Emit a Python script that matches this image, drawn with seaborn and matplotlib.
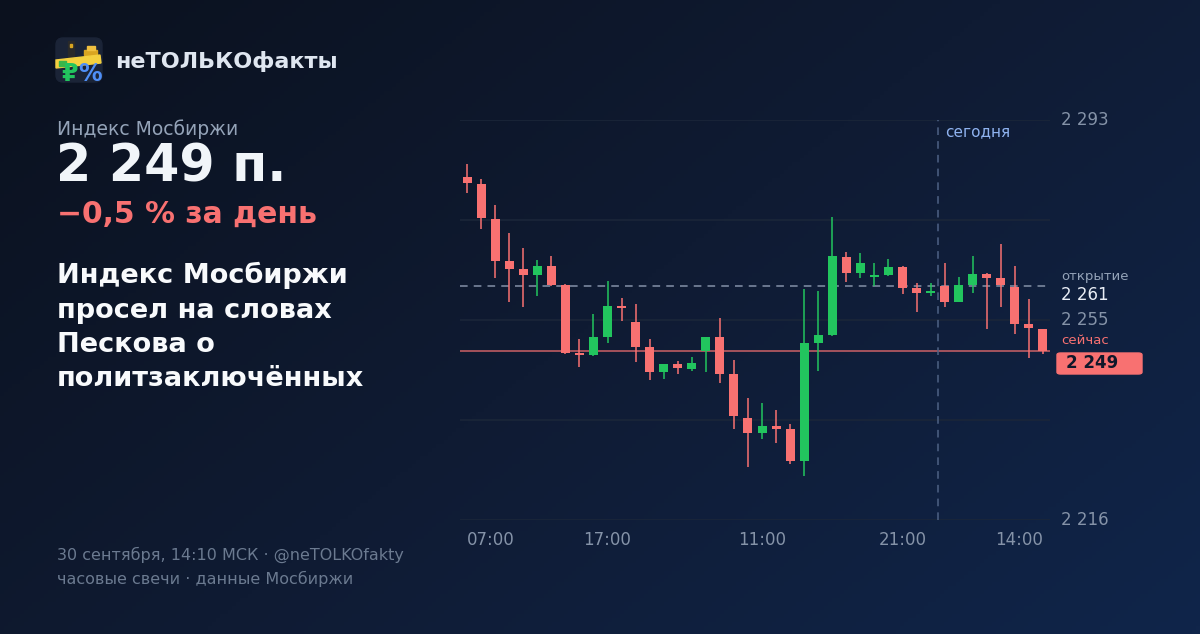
import numpy as np
import seaborn as sns
import matplotlib.pyplot as plt
from matplotlib.patches import FancyBboxPatch, Rectangle, Polygon
from matplotlib.colors import LinearSegmentedColormap

# hourly candles, Moscow exchange index
opens = [2282.1, 2280.7, 2273.9, 2265.9, 2264.3, 2263.2, 2264.9, 2261.2, 2248.1, 2247.8,
         2251.2, 2257.2, 2254.1, 2249.3, 2244.5, 2246.0, 2245.1, 2248.5, 2251.2, 2244.1,
         2235.6, 2232.7, 2234.1, 2233.5, 2227.4, 2250.1, 2251.6, 2266.6, 2263.5, 2262.8,
         2263.2, 2264.7, 2260.7, 2259.7, 2261.0, 2258.0, 2261.2, 2263.4, 2262.6, 2260.9,
         2253.7, 2252.8]
closes = [2280.8, 2274.1, 2265.9, 2264.3, 2263.2, 2264.9, 2261.2, 2248.1, 2247.8, 2251.2,
          2257.2, 2256.8, 2249.3, 2244.5, 2246.0, 2245.3, 2246.2, 2251.2, 2244.1, 2236.0,
          2232.7, 2234.1, 2233.5, 2227.4, 2250.1, 2251.6, 2266.8, 2263.5, 2265.5, 2263.2,
          2264.7, 2260.7, 2259.7, 2260.1, 2258.0, 2261.2, 2263.4, 2262.6, 2261.2, 2253.7,
          2253.0, 2248.6]
highs = [2284.5, 2281.6, 2276.6, 2271.2, 2268.4, 2266.1, 2266.8, 2261.4, 2250.8, 2255.7,
         2262.0, 2258.7, 2257.6, 2250.8, 2246.1, 2246.6, 2247.4, 2251.3, 2254.9, 2246.8,
         2239.5, 2238.5, 2237.2, 2234.5, 2260.5, 2260.1, 2274.3, 2267.6, 2267.4, 2265.5,
         2266.2, 2264.8, 2261.6, 2261.6, 2265.5, 2262.8, 2266.8, 2263.5, 2269.1, 2264.9,
         2258.5, 2252.8]
lows = [2279.0, 2272.0, 2262.6, 2258.0, 2257.0, 2259.1, 2261.0, 2248.0, 2245.5, 2247.6,
        2250.1, 2254.3, 2246.4, 2243.0, 2243.1, 2244.1, 2244.7, 2244.5, 2242.4, 2233.5,
        2226.2, 2231.6, 2230.8, 2226.8, 2224.5, 2244.7, 2251.5, 2261.8, 2262.6, 2261.0,
        2263.0, 2259.5, 2256.0, 2259.1, 2257.0, 2258.0, 2259.7, 2252.8, 2257.0, 2251.8,
        2247.2, 2248.0]

tick_idx = [0, 10, 21, 31, 41]
tick_labels = ["07:00", "17:00", "11:00", "21:00", "14:00"]
y_min, y_max = 2216, 2293
open_price = 2261
now_price = 2248.6
today_start = 33.5

RED = "#f87171"
GREEN = "#22c55e"

sns.set_theme(style="dark")
plt.rcParams['font.family'] = ['DejaVu Sans']

W, H = 1200, 634
fig = plt.figure(figsize=(12, 6.34), dpi=100)


def px(x, y):
    return x / W, 1 - y / H


# background gradient
bg = fig.add_axes([0, 0, 1, 1], zorder=-10)
gx, gy = np.meshgrid(np.linspace(0, 1, 300), np.linspace(0, 1, 160))
grad = 0.6 * gx + 0.4 * gy
cmap = LinearSegmentedColormap.from_list("bg", ["#0b111e", "#0f1b33", "#10254a"])
bg.imshow(grad, cmap=cmap, aspect="auto", extent=[0, 1, 0, 1], origin="upper")
bg.axis("off")

# candle chart
ax = fig.add_axes([460 / W, 1 - 520 / H, 590 / W, 400 / H])
ax.set_facecolor("none")
x = np.arange(len(opens))
for i in x:
    o, c = opens[i], closes[i]
    col = GREEN if c >= o else RED
    ax.vlines(i, lows[i], highs[i], color=col, lw=1.1, zorder=3)
    ax.bar(i, max(abs(c - o), 0.35), bottom=min(o, c), width=0.64, color=col,
           linewidth=0, zorder=4)

ax.set_xlim(-0.5, len(opens) - 0.5)
ax.set_ylim(y_min, y_max)
for g in np.linspace(y_min, y_max, 5):
    ax.axhline(g, color="#1b2639", lw=1.2, zorder=1)
ax.axhline(open_price, color="#8491a8", lw=1.1, ls=(0, (5, 4)), zorder=2)
ax.axhline(now_price, color=RED, lw=1.2, alpha=0.75, zorder=2)
ax.axvline(today_start, color="#4e6285", lw=1.1, ls=(0, (5, 4)), zorder=2)
ax.text(today_start + 0.55, y_max - 2.3, "сегодня", color="#8fb3f0", fontsize=11,
        va="center", ha="left")
ax.set_xticks([])
ax.set_yticks([])
sns.despine(ax=ax, left=True, bottom=True)

for i, lab in zip(tick_idx, tick_labels):
    ha = "left" if i == tick_idx[0] else ("right" if i == tick_idx[-1] else "center")
    ax.text(i, y_min - 3.85, lab, color="#8593a8", fontsize=12, ha=ha, va="center",
            transform=ax.transData, clip_on=False)

# right price labels
axis_gray = "#8593a8"
for val, txt in [(y_max, "2 293"), (2254.5, "2 255"), (y_min, "2 216")]:
    ax.text(1.0185, val, txt, color=axis_gray, fontsize=12, va="center", ha="left",
            transform=ax.get_yaxis_transform(), clip_on=False)
fig.text(*px(1061, 277), "открытие", color="#94a3b8", fontsize=9.5, va="center")
fig.text(*px(1061, 295), "2 261", color="#e8edf5", fontsize=12, va="center")
fig.text(*px(1061, 341), "сейчас", color=RED, fontsize=9.5, va="center")
box = FancyBboxPatch(px(1057, 374), 85 / W, 21 / H, boxstyle="round,pad=0,rounding_size=0.003",
                     transform=fig.transFigure, color=RED, zorder=5)
fig.patches.append(box)
fig.text(*px(1066, 363), "2 249", color="#0f172a", fontsize=12, fontweight="bold",
         va="center", zorder=6)

# logo icon
lg = fig.add_axes([55 / W, 1 - 83 / H, 48 / W, 46 / H])
lg.set_xlim(0, 48)
lg.set_ylim(46, 0)
lg.axis("off")
lg.add_patch(FancyBboxPatch((1, 1), 46, 44, boxstyle="round,pad=0,rounding_size=7",
                            color="#1b2437"))
lg.add_patch(Rectangle((13, 4), 6, 16, color="#2a2a2a"))
lg.add_patch(Rectangle((15, 7), 2, 3, color="#d9a521"))
lg.add_patch(Rectangle((29, 13), 13, 5, color="#d9a521"))
lg.add_patch(Rectangle((32, 9), 8, 4, color="#f0c040"))
lg.add_patch(Polygon([(1, 23), (45, 18), (46, 26), (1, 31)], closed=True, color="#f4d03f"))
lg.add_patch(Rectangle((4, 24), 7, 5, color="#3bb54a"))
lg.text(15, 37, "₽", color=GREEN, fontsize=17, fontweight="bold", ha="center", va="center")
lg.text(35, 37, "%", color="#4f8ff7", fontsize=17, fontweight="bold", ha="center", va="center")

fig.text(*px(115, 61), "неТОЛЬКОфакты", color="#dfe6f0", fontsize=16, fontweight="bold",
         va="center")

# left text block
fig.text(*px(57, 129), "Индекс Мосбиржи", color="#94a3b8", fontsize=13.5, va="center")
fig.text(*px(56, 167), "2 249 п.", color="#f1f5f9", fontsize=36.5, fontweight="bold",
         va="center")
fig.text(*px(57, 214), "−0,5 % за день", color=RED, fontsize=21.5, fontweight="bold",
         va="center")
fig.text(*px(57, 262), "Индекс Мосбиржи\nпросел на словах\nПескова о\nполитзаключённых",
         color="#f8fafc", fontsize=19.5, fontweight="bold", va="top", linespacing=1.42)

fig.text(*px(57, 555), "30 сентября, 14:10 МСК · @neTOLKOfakty", color="#6b7a90",
         fontsize=11.5, va="center")
fig.text(*px(57, 579), "часовые свечи · данные Мосбиржи", color="#6b7a90",
         fontsize=11.5, va="center")

fig.savefig("out.png", dpi=100)
